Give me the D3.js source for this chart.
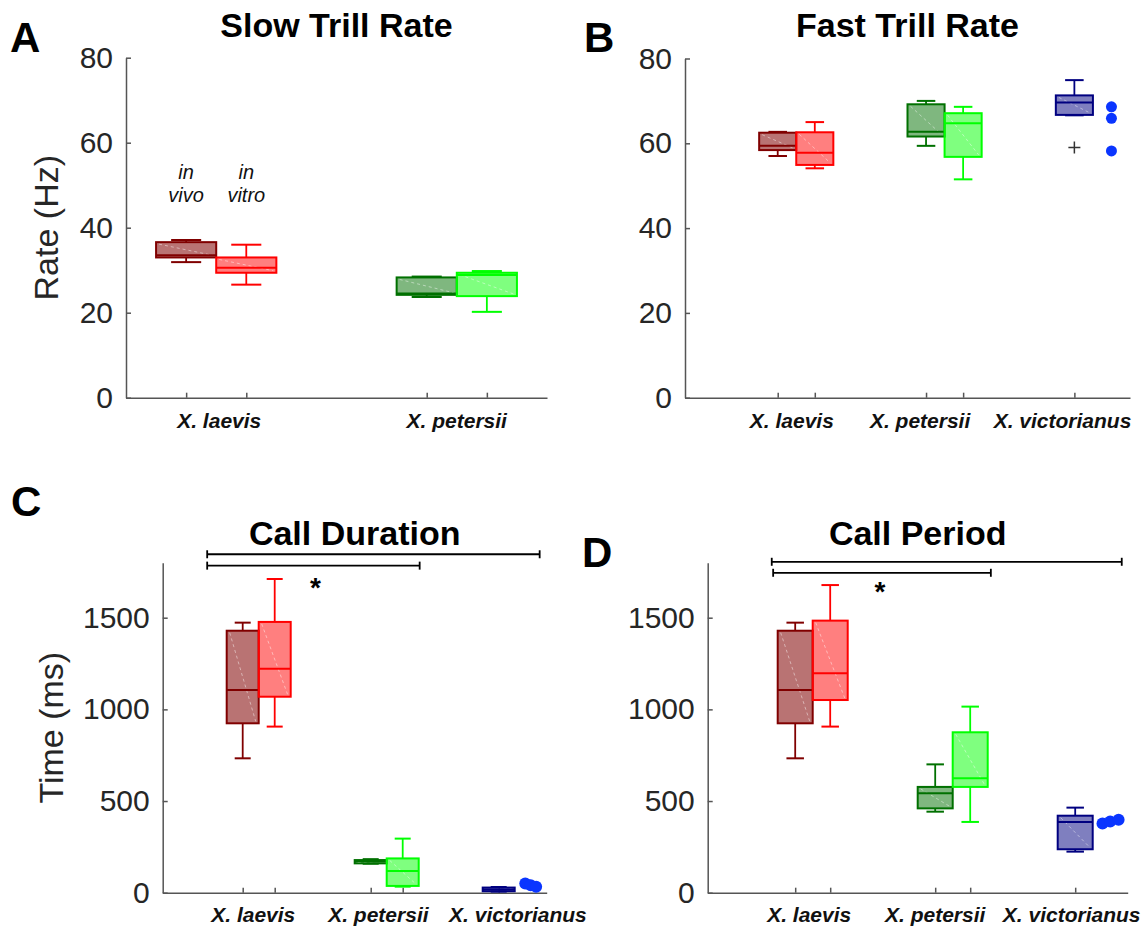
<!DOCTYPE html>
<html><head><meta charset="utf-8">
<script src="https://cdn.jsdelivr.net/npm/d3@7"></script>
<style>
body{margin:0;background:#fff;}
svg{display:block;font-family:"Liberation Sans",Arial,Helvetica,sans-serif;}
</style>
</head><body>
<svg id="chart" width="1143" height="929"></svg>
<script>
// ---------------- DATA ----------------
const species = ["X. laevis", "X. petersii", "X. victorianus"];
const conditionLabels = [["in", "vivo"], ["in", "vitro"]];

// five-number summaries: [lower whisker, Q1, median, Q3, upper whisker]
const slowTrillInVivo  = [[31.9, 33.0, 33.5, 36.6, 37.1], [23.7, 24.2, 24.5, 28.3, 28.5]];
const slowTrillInVitro = [[26.6, 29.4, 30.6, 33.0, 36.0], [20.2, 23.9, 28.9, 29.4, 29.8]];

const fastTrillInVivo  = [[57.0, 58.4, 59.4, 62.5, 62.7], [59.4, 61.6, 62.7, 69.2, 70.0], [66.6, 66.7, 69.6, 71.3, 74.9]];
const fastTrillInVitro = [[54.1, 54.9, 57.8, 62.6, 65.0], [51.5, 56.8, 64.7, 67.1, 68.6]];
const fastTrillOutliers = [59.0];                 // X. victorianus in vivo
const fastTrillVictorianusInVitro = [68.6, 65.9, 58.2];

const callDurationInVivo  = [[733, 924, 1106, 1429, 1473], [158, 160, 172, 178, 183], [6, 8, 18, 28, 31]];
const callDurationInVitro = [[906, 1069, 1222, 1477, 1711], [33, 37, 118, 187, 295]];
const callDurationVictorianusInVitro = [50, 41, 33];

const callPeriodInVivo  = [[733, 924, 1106, 1429, 1473], [442, 460, 542, 577, 700], [224, 237, 386, 420, 464]];
const callPeriodInVitro = [[906, 1051, 1197, 1484, 1678], [386, 577, 624, 875, 1015]];
const callPeriodVictorianusInVitro = [378, 388, 398];

const rateTicks = [0, 20, 40, 60, 80];
const timeTicks = [0, 500, 1000, 1500];

// significance brackets [from slot, to slot, level]
const durationBrackets = [[-1.11, 9.28, 1846], [-1.11, 5.53, 1784]];
const durationStar = [2.27, 1696];
const periodBrackets = [[-0.67, 9.33, 1805], [-0.63, 5.59, 1745]];
const periodStar = [2.42, 1673];

// ---------------- STYLE ----------------
const vivoColors = ["#800000", "#007000", "#000080"];
const vitroColors = ["#ff0000", "#00ff00"];
const dotColor = "#0a35ff";
const axisColor = "#555555";
const textColor = "#262626";

// ---------------- LAYOUT ----------------
const panels = [
  { letter: "A", lx: 10, ly: 52, title: "Slow Trill Rate", tBase: 37,
    x0: 126, x1: 547, yb: 397.7, yt: 57.7, yDomain: [0, 80], ticks: rateTicks,
    xDomain: [-1, 6], labelSlots: [0.55, 4.5], labelBase: 427.5,
    vivo: slowTrillInVivo, vitro: slowTrillInVitro, yLabel: "Rate (Hz)", yLabelX: 58, cond: true },
  { letter: "B", lx: 584, ly: 52, title: "Fast Trill Rate", tBase: 37,
    x0: 685, x1: 1130, yb: 397.7, yt: 58.5, yDomain: [0, 80], ticks: rateTicks,
    xDomain: [-2.5, 9.5], labelSlots: [0.38, 3.84, 7.68], labelBase: 428,
    vivo: fastTrillInVivo, vitro: fastTrillInVitro, outliers: fastTrillOutliers,
    dots: fastTrillVictorianusInVitro, dotOffsets: [0, 0, 0], dotR: 5.5 },
  { letter: "C", lx: 11, ly: 516, title: "Call Duration", tBase: 545,
    x0: 162.7, x1: 546.7, yb: 892.7, yt: 562.7, yDomain: [0, 1800], ticks: timeTicks,
    xDomain: [-2.5, 9.5], labelSlots: [0.33, 4.24, 8.6], labelBase: 921.7,
    vivo: callDurationInVivo, vitro: callDurationInVitro,
    dots: callDurationVictorianusInVitro, dotOffsets: [-0.17, 0, 0.17], dotR: 6,
    brackets: durationBrackets, star: durationStar, yLabel: "Time (ms)", yLabelX: 63 },
  { letter: "D", lx: 582, ly: 567, title: "Call Period", tBase: 545,
    x0: 707.7, x1: 1127.7, yb: 892.7, yt: 562.7, yDomain: [0, 1800], ticks: timeTicks,
    xDomain: [-2.5, 9.5], labelSlots: [0.4, 4.0, 7.9], labelBase: 921.7,
    vivo: callPeriodInVivo, vitro: callPeriodInVitro,
    dots: callPeriodVictorianusInVitro, dotOffsets: [-0.22, 0, 0.24], dotR: 6,
    brackets: periodBrackets, star: periodStar }
];

const svg = d3.select("#chart");

function drawBox(g, x, y, pos, s, color, fo) {
  const [lo, q1, med, q3, hi] = s;
  const xl = x(pos - 0.5), xr = x(pos + 0.5);
  g.append("line").attr("x1", x(pos)).attr("x2", x(pos)).attr("y1", y(q3)).attr("y2", y(hi))
    .attr("stroke", color).attr("stroke-width", 1.8);
  g.append("line").attr("x1", x(pos)).attr("x2", x(pos)).attr("y1", y(q1)).attr("y2", y(lo))
    .attr("stroke", color).attr("stroke-width", 1.8);
  [lo, hi].forEach(v => g.append("line").attr("x1", x(pos - 0.25)).attr("x2", x(pos + 0.25))
    .attr("y1", y(v)).attr("y2", y(v)).attr("stroke", color).attr("stroke-width", 2));
  g.append("rect").attr("x", xl).attr("width", xr - xl).attr("y", y(q3)).attr("height", Math.max(1, y(q1) - y(q3)))
    .attr("fill", color).attr("fill-opacity", fo).attr("stroke", color).attr("stroke-width", 2);
  g.append("line").attr("x1", xl + 3).attr("y1", y(q3) + 2).attr("x2", xr - 3).attr("y2", y(q1) - 2)
    .attr("stroke", "#fff").attr("stroke-opacity", 0.45).attr("stroke-width", 1).attr("stroke-dasharray", "3,3");
  g.append("line").attr("x1", xl).attr("x2", xr).attr("y1", y(med)).attr("y2", y(med))
    .attr("stroke", color).attr("stroke-width", 2);
}

panels.forEach(p => {
  const g = svg.append("g");
  const x = d3.scaleLinear().domain(p.xDomain).range([p.x0, p.x1]);
  const y = d3.scaleLinear().domain(p.yDomain).range([p.yb, p.yt]);

  g.append("text").attr("x", p.lx).attr("y", p.ly).text(p.letter)
    .attr("font-size", 42).attr("font-weight", "bold").attr("fill", "#000");
  g.append("text").attr("x", (p.x0 + p.x1) / 2).attr("y", p.tBase).text(p.title)
    .attr("text-anchor", "middle").attr("font-size", 34).attr("font-weight", "bold").attr("fill", "#000");

  const ya = g.append("g").attr("transform", `translate(${p.x0},0)`)
    .call(d3.axisLeft(y).tickValues(p.ticks).tickFormat(d3.format("d"))
      .tickSizeInner(-5).tickSizeOuter(0).tickPadding(13));
  ya.selectAll("text").attr("font-size", 30).attr("fill", textColor)
    .attr("font-family", '"Liberation Sans",Arial,Helvetica,sans-serif');
  ya.selectAll("path,line").attr("stroke", axisColor).attr("stroke-width", 1.5);

  const positions = [];
  p.vivo.forEach((d, i) => positions.push(i * 4));
  p.vitro.forEach((d, i) => positions.push(i * 4 + 1));
  const xa = g.append("g").attr("transform", `translate(0,${p.yb})`)
    .call(d3.axisBottom(x).tickValues(positions).tickSizeInner(-5).tickSizeOuter(0).tickFormat(""));
  xa.selectAll("path,line").attr("stroke", axisColor).attr("stroke-width", 1.5);

  p.labelSlots.forEach((s, i) => {
    g.append("text").attr("x", x(s)).attr("y", p.labelBase).text(species[i])
      .attr("text-anchor", "middle").attr("font-size", 21).attr("font-weight", "bold")
      .attr("font-style", "italic").attr("fill", "#111");
  });

  if (p.yLabel) {
    g.append("text").attr("transform", `translate(${p.yLabelX},${(p.yb + p.yt) / 2}) rotate(-90)`)
      .attr("text-anchor", "middle").attr("font-size", 34).attr("fill", textColor).text(p.yLabel);
  }

  p.vivo.forEach((s, i) => drawBox(g, x, y, i * 4, s, vivoColors[i], i === 0 ? 0.55 : 0.5));
  p.vitro.forEach((s, i) => drawBox(g, x, y, i * 4 + 1, s, vitroColors[i], 0.5));

  if (p.outliers) {
    p.outliers.forEach(v => {
      const cx = x(8), cy = y(v);
      g.append("path").attr("d", `M${cx - 6},${cy}H${cx + 6}M${cx},${cy - 6}V${cy + 6}`)
        .attr("stroke", "#333").attr("stroke-width", 1.5);
    });
  }
  if (p.dots) {
    p.dots.forEach((v, i) => g.append("circle").attr("cx", x(9 + p.dotOffsets[i])).attr("cy", y(v))
      .attr("r", p.dotR).attr("fill", dotColor));
  }

  if (p.cond) {
    conditionLabels.forEach((lines, c) => {
      lines.forEach((t, k) => g.append("text").attr("x", x(c)).attr("y", y(k === 0 ? 51.5 : 46)).text(t)
        .attr("text-anchor", "middle").attr("font-size", 20).attr("font-style", "italic").attr("fill", "#111"));
    });
  }

  if (p.brackets) {
    p.brackets.forEach(([a, b, v]) => {
      const yy = y(v);
      g.append("line").attr("x1", x(a)).attr("x2", x(b)).attr("y1", yy).attr("y2", yy)
        .attr("stroke", "#000").attr("stroke-width", 1.8);
      [a, b].forEach(e => g.append("line").attr("x1", x(e)).attr("x2", x(e)).attr("y1", yy - 4).attr("y2", yy + 4)
        .attr("stroke", "#000").attr("stroke-width", 1.8));
    });
    g.append("text").attr("x", x(p.star[0])).attr("y", y(p.star[1]) + 15).text("*")
      .attr("text-anchor", "middle").attr("font-size", 28).attr("font-weight", "bold").attr("fill", "#000");
  }
});
</script>
</body></html>
